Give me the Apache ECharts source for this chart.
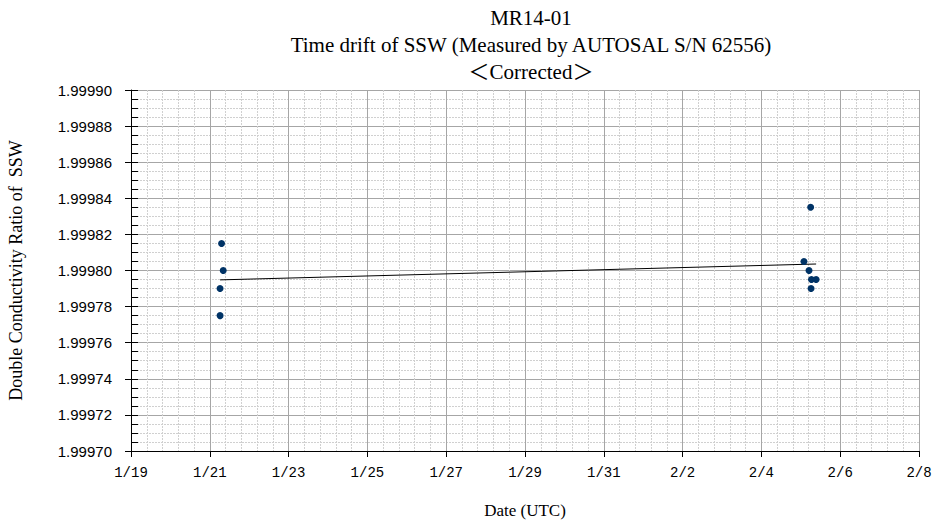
<!DOCTYPE html>
<html>
<head>
<meta charset="utf-8">
<script src="https://cdn.jsdelivr.net/npm/echarts@6/dist/echarts.min.js"></script>
<style>
html,body{margin:0;padding:0;background:#fff;}
#chart{width:936px;height:524px;}
</style>
</head>
<body>
<div id="chart"></div>
<script>
// ---- data ----
const titleLines = ['MR14-01', 'Time drift of SSW (Measured by AUTOSAL S/N 62556)', '\uFF1CCorrected\uFF1E'];
const xAxisTitle = 'Date (UTC)';
const yAxisTitle = 'Double Conductivity Ratio of  SSW';
const startDate = '2014-01-19 00:00';
const endDate = '2014-02-08 00:00';
// measurement times (UTC) and double conductivity ratios
const sampleTimes = [
  '2014-01-21 07:10', '2014-01-21 08:10', '2014-01-21 06:15', '2014-01-21 06:15',
  '2014-02-05 01:55', '2014-02-05 05:00', '2014-02-05 06:00', '2014-02-05 06:30',
  '2014-02-05 09:20', '2014-02-05 06:15'
];
const sampleRatios = [
  1.999815, 1.999800, 1.999790, 1.999775,
  1.999805, 1.999800, 1.999835, 1.999795,
  1.999795, 1.999790
];
// trend line end points
const trendTimes = ['2014-01-21 06:15', '2014-02-05 09:20'];
const trendRatios = [1.9997948, 1.9998036];
const yMin = 1.99970, yMax = 1.99990, yStep = 0.00002;

// ---- helpers ----
const DAY = 86400000;
function toMs(s) {
  const [d, t] = s.split(' ');
  const [Y, M, D] = d.split('-').map(Number);
  const [h, m] = t.split(':').map(Number);
  return Date.UTC(Y, M - 1, D, h, m);
}
const base = toMs(startDate);
const toDays = s => (toMs(s) - base) / DAY;
const xMax = toDays(endDate);

const scatterData = sampleTimes.map((t, i) => [toDays(t), sampleRatios[i]]);
const trendData = trendTimes.map((t, i) => [toDays(t), trendRatios[i]]);

const chart = echarts.init(document.getElementById('chart'), null, {renderer: 'svg'});
const serif = '"Liberation Serif", "Times New Roman", "Noto Sans CJK JP", serif';

chart.setOption({
  animation: false,
  backgroundColor: '#ffffff',
  graphic: titleLines.map((s, i) => ({
    type: 'text',
    x: 531, y: 18 + i * 27,
    style: {
      text: s, fill: '#000', font: '21px ' + serif,
      textAlign: 'center', textVerticalAlign: 'middle'
    }
  })),
  grid: {left: 131, right: 17, top: 90, bottom: 73, containLabel: false, outerBoundsMode: 'none'},
  xAxis: {
    type: 'value',
    min: 0, max: xMax, interval: 2,
    name: xAxisTitle, nameLocation: 'middle', nameGap: 51,
    nameTextStyle: {fontFamily: serif, fontSize: 17, color: '#000'},
    axisLine: {show: true, lineStyle: {color: '#000', width: 1}},
    axisTick: {show: true, length: 6, lineStyle: {color: '#000'}},
    axisLabel: {
      margin: 15, color: '#000', fontSize: 14, fontFamily: '"Liberation Mono", "DejaVu Sans Mono", monospace',
      formatter: v => { const d = new Date(base + v * DAY); return (d.getUTCMonth() + 1) + '/' + d.getUTCDate(); }
    },
    splitLine: {show: true, lineStyle: {color: '#a6a6a6', width: 1}},
    minorTick: {show: false, splitNumber: 5},
    minorSplitLine: {show: true, lineStyle: {color: '#d0d0d0', width: 1, type: [2, 1]}}
  },
  yAxis: [{
    type: 'value',
    position: 'left',
    min: yMin, max: yMax, interval: yStep,
    name: yAxisTitle, nameLocation: 'middle', nameGap: 106, nameRotate: 90,
    nameTextStyle: {fontFamily: serif, fontSize: 18, color: '#000'},
    axisLine: {show: true, lineStyle: {color: '#000', width: 1}},
    axisTick: {show: true, length: 6, lineStyle: {color: '#000'}},
    axisLabel: {
      margin: 19, color: '#000', fontSize: 15, fontFamily: '"Liberation Sans", Arial, sans-serif',
      formatter: v => v.toFixed(5)
    },
    splitLine: {show: true, lineStyle: {color: '#a6a6a6', width: 1}},
    minorTick: {show: false, splitNumber: 4},
    minorSplitLine: {show: true, lineStyle: {color: '#d0d0d0', width: 1, type: [2, 1]}}
  }, {
    type: 'value',
    position: 'left',
    min: yMin, max: yMax, interval: yStep,
    axisLine: {show: false},
    axisTick: {show: true, inside: true, length: 7, lineStyle: {color: '#000'}},
    minorTick: {show: true, splitNumber: 4, length: 7, lineStyle: {color: '#000'}},
    axisLabel: {show: false},
    splitLine: {show: false}
  }],
  series: [{
    type: 'line',
    data: trendData,
    yAxisIndex: 0,
    symbol: 'none',
    lineStyle: {color: '#000', width: 1},
    z: 2
  }, {
    type: 'scatter',
    data: scatterData,
    yAxisIndex: 0,
    symbol: 'circle',
    symbolSize: 7,
    itemStyle: {color: '#003366', opacity: 1},
    z: 3
  }]
});
</script>
</body>
</html>
